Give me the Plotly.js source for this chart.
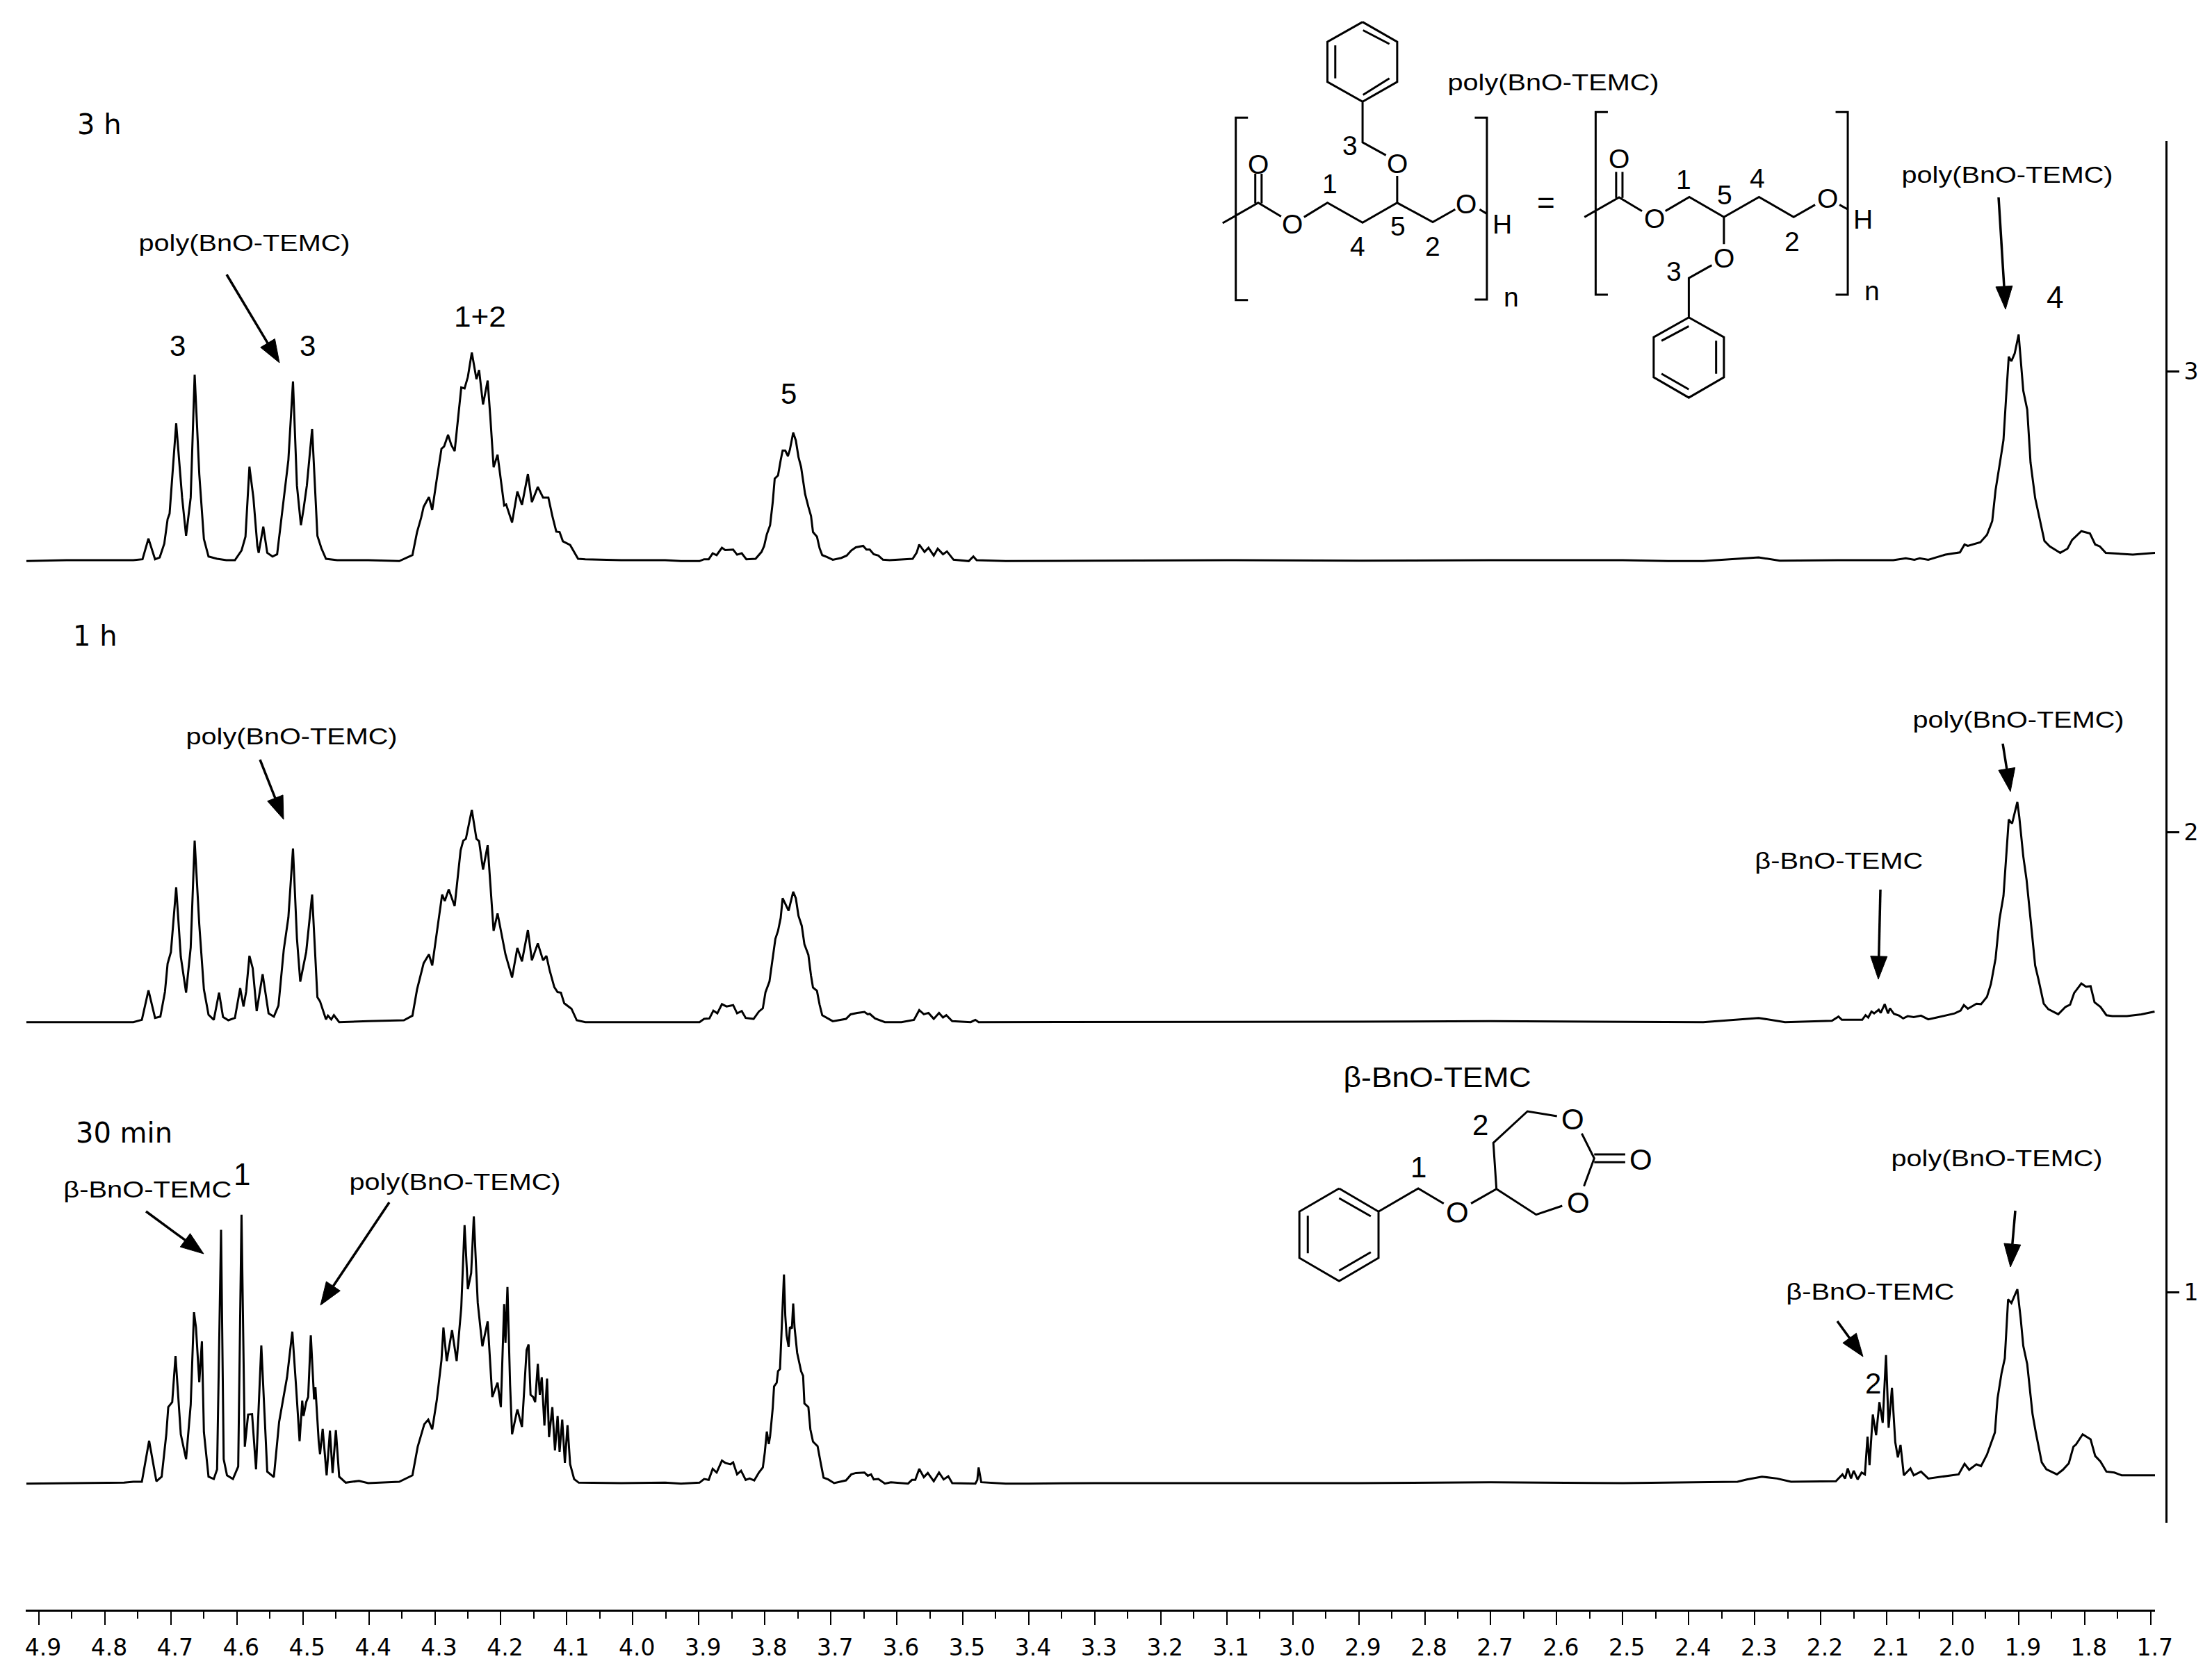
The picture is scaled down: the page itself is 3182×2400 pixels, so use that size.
<!DOCTYPE html>
<html>
<head>
<meta charset="utf-8">
<script src="https://cdn.plot.ly/plotly-3.0.1.min.js"></script>
<style>html,body{margin:0;padding:0;background:#fff}</style>
</head>
<body>
<div id="chart" style="width:3182px;height:2400px"></div>
<script>
// ---------- stacked offsets (right axis units) ----------
const base3h = 2.588, base1h = 1.587, base30 = 0.585;

// ---------- 3 h spectrum ----------
const ppm3h_a = [4.919,4.858,4.757,4.743,4.734,4.724,4.717,4.710,4.705,4.702,4.692,4.683,4.677,4.670,4.664,4.657,4.650,4.643,4.630,4.616,4.603,4.593,4.587,4.581,4.575,4.569,4.567,4.560,4.554,4.546,4.539,4.532,4.522,4.515,4.509,4.503,4.499,4.494,4.486,4.478,4.472,4.465,4.448];
const int3h_a = [0,.002,.002,.004,.049,.004,.008,.038,.091,.103,.299,.138,.055,.138,.405,.189,.048,.010,.005,.002,.002,.023,.053,.205,.138,.033,.018,.075,.018,.010,.015,.098,.219,.390,.164,.078,.113,.164,.287,.055,.028,.005,.002];
const ppm3h_b = [4.401,4.354,4.334,4.327,4.321,4.317,4.309,4.304,4.297,4.290,4.286,4.280,4.275,4.270,4.260,4.255,4.250,4.244,4.237,4.233,4.227,4.220,4.216,4.211,4.205,4.200,4.195,4.192,4.183,4.175,4.168,4.159,4.153,4.144,4.136,4.128,4.122,4.116,4.111,4.106,4.095,4.083,4.072,4.018,3.951];
const int3h_b = [.002,0,.013,.063,.093,.118,.139,.111,.179,.244,.249,.274,.252,.239,.377,.375,.400,.453,.395,.415,.340,.392,.314,.204,.231,.179,.121,.123,.084,.151,.122,.189,.128,.161,.138,.138,.098,.064,.063,.043,.035,.005,.004,.002,.002];
const ppm3h_c = [3.927,3.899,3.892,3.885,3.879,3.873,3.865,3.860,3.848,3.842,3.835,3.828,3.814,3.805,3.801,3.797,3.792,3.788,3.785,3.780,3.776,3.773,3.769,3.765,3.762,3.757,3.753,3.749,3.745,3.739,3.734,3.730,3.727,3.721,3.717,3.713,3.706,3.697,3.684,3.676,3.669,3.662,3.651,3.646,3.641,3.635,3.628,3.621,3.611,3.576,3.570,3.566,3.558,3.552,3.544,3.538,3.530,3.524,3.514,3.491,3.484,3.479,3.435,3.400];
const int3h_c = [0,0,.004,.004,.017,.013,.029,.024,.025,.014,.017,.004,.005,.020,.033,.058,.078,.128,.179,.186,.219,.240,.240,.228,.242,.279,.262,.226,.204,.146,.118,.098,.063,.053,.028,.013,.009,.003,.007,.012,.023,.030,.033,.025,.025,.015,.012,.003,.002,.005,.018,.036,.020,.029,.012,.027,.015,.021,.003,0,.010,.002,0,0];
const ppm3h_d = [3.30,3.10,2.90,2.70,2.50,2.431,2.378,2.294,2.262,2.174,2.090,2.071,2.058,2.050,2.037,2.011,1.989,1.982,1.977,1.958,1.948,1.940,1.935,1.926,1.923,1.919,1.915,1.911,1.906,1.900,1.896,1.893,1.887,1.882,1.875,1.868,1.861,1.853,1.837,1.826,1.819,1.805,1.792,1.784,1.777,1.768,1.727,1.692];
const int3h_d = [.001,.002,.001,.002,.002,0,0,.008,.001,.002,.002,.006,.003,.006,.003,.014,.019,.036,.033,.041,.057,.087,.154,.235,.263,.356,.444,.434,.451,.492,.424,.370,.329,.214,.137,.088,.044,.032,.018,.027,.046,.065,.060,.036,.032,.018,.014,.018];

// ---------- 1 h spectrum ----------
const ppm1h_a = [4.919,4.757,4.744,4.734,4.724,4.716,4.709,4.705,4.700,4.692,4.685,4.677,4.670,4.664,4.657,4.650,4.643,4.635,4.627,4.621,4.613,4.603,4.595,4.590,4.586,4.581,4.576,4.570,4.561,4.552,4.544,4.537,4.529,4.522,4.515,4.509,4.504,4.495,4.486,4.478,4.474,4.465,4.462,4.457,4.453,4.445];
const int1h_a = [0,0,.005,.069,.009,.012,.066,.127,.152,.293,.142,.064,.162,.394,.212,.071,.016,.005,.064,.011,.004,.009,.074,.034,.066,.144,.117,.024,.104,.019,.012,.036,.157,.227,.377,.182,.088,.152,.277,.054,.045,.006,.014,.006,.015,0];
const ppm1h_b = [4.401,4.347,4.334,4.327,4.317,4.309,4.304,4.297,4.289,4.285,4.279,4.270,4.261,4.257,4.253,4.244,4.237,4.233,4.227,4.220,4.215,4.211,4.205,4.198,4.193,4.183,4.175,4.168,4.159,4.153,4.144,4.136,4.131,4.126,4.119,4.114,4.109,4.104,4.093,4.085,4.072,3.951];
const int1h_b = [.002,.004,.014,.071,.128,.147,.123,.197,.277,.263,.288,.252,.373,.394,.398,.461,.398,.393,.331,.384,.283,.198,.236,.182,.147,.097,.161,.132,.200,.134,.171,.134,.144,.112,.076,.065,.064,.041,.029,.004,0,0];
const ppm1h_c = [3.927,3.899,3.892,3.884,3.878,3.872,3.865,3.858,3.848,3.842,3.835,3.829,3.817,3.809,3.803,3.799,3.793,3.789,3.784,3.780,3.776,3.773,3.764,3.757,3.753,3.749,3.744,3.740,3.734,3.730,3.727,3.721,3.717,3.713,3.706,3.697,3.677,3.670,3.660,3.649,3.644,3.641,3.633,3.627,3.618,3.593,3.574,3.566,3.559,3.552,3.544,3.536,3.530,3.525,3.516,3.488,3.481,3.476,3.435,3.400];
const int1h_c = [0,0,.007,.008,.025,.019,.039,.034,.037,.019,.024,.009,.007,.023,.030,.065,.088,.133,.181,.198,.226,.269,.242,.283,.269,.231,.209,.169,.146,.101,.075,.068,.038,.015,.009,.002,.007,.017,.020,.022,.017,.018,.008,.005,0,0,.005,.026,.017,.020,.007,.020,.010,.015,.002,0,.005,0,0,0];
const ppm1h_d = [3.30,3.10,2.90,2.70,2.50,2.378,2.294,2.254,2.183,2.173,2.168,2.137,2.132,2.128,2.123,2.119,2.112,2.109,2.103,2.098,2.095,2.089,2.081,2.075,2.068,2.059,2.048,2.037,2.024,1.997,1.988,1.983,1.977,1.964,1.957,1.948,1.942,1.935,1.929,1.923,1.915,1.910,1.902,1.899,1.893,1.888,1.882,1.875,1.870,1.862,1.855,1.840,1.829,1.822,1.816,1.805,1.798,1.791,1.785,1.776,1.767,1.758,1.736,1.714,1.694];
const int1h_d = [.001,.001,.001,.002,.001,0,.009,0,.003,.012,.005,.005,.015,.010,.023,.019,.027,.020,.039,.019,.030,.018,.014,.008,.013,.011,.014,.006,.010,.019,.025,.037,.029,.040,.039,.055,.083,.138,.224,.274,.440,.431,.478,.445,.360,.309,.224,.123,.093,.040,.028,.017,.033,.038,.063,.084,.077,.078,.043,.033,.015,.013,.013,.017,.023];

// ---------- 30 min spectrum ----------
const ppm30_a = [4.919,4.771,4.757,4.744,4.733,4.722,4.714,4.707,4.704,4.698,4.693,4.685,4.677,4.670,4.665,4.662,4.657,4.653,4.650,4.643,4.635,4.630,4.624,4.620,4.615,4.606,4.598,4.593,4.588,4.583,4.577,4.571,4.563,4.554,4.544,4.536,4.524,4.516,4.510,4.505,4.501,4.499,4.495,4.492,4.488,4.483,4.481,4.476,4.474,4.470,4.464,4.459,4.455,4.450,4.445,4.435];
const int30_a = [0,.002,.004,.004,.093,.005,.015,.107,.166,.177,.277,.107,.053,.171,.372,.339,.220,.309,.112,.015,.010,.031,.551,.053,.018,.010,.037,.584,.080,.150,.151,.031,.300,.026,.014,.134,.231,.330,.204,.092,.180,.147,.177,.188,.322,.183,.209,.091,.064,.119,.018,.115,.023,.116,.015,.002];
const ppm30_b = [4.415,4.401,4.354,4.334,4.326,4.319,4.316,4.310,4.304,4.297,4.290,4.287,4.282,4.274,4.267,4.260,4.255,4.250,4.245,4.241,4.235,4.228,4.220,4.213,4.205,4.200,4.195,4.193,4.190,4.186,4.183,4.175,4.168,4.161,4.158,4.155,4.151,4.148,4.144,4.141,4.138,4.134,4.130,4.127,4.122,4.118,4.114,4.111,4.107,4.103,4.099,4.095,4.089,4.082,4.018,3.951];
const int30_b = [.006,.001,.004,.018,.080,.112,.129,.139,.118,.182,.268,.339,.266,.333,.266,.382,.561,.422,.457,.580,.392,.298,.352,.188,.219,.166,.390,.306,.427,.215,.107,.161,.123,.290,.302,.193,.188,.177,.260,.193,.231,.126,.228,.101,.166,.072,.147,.069,.139,.045,.127,.042,.010,.002,.001,.002];
const ppm30_c = [3.927,3.899,3.892,3.885,3.879,3.873,3.865,3.860,3.852,3.848,3.842,3.836,3.829,3.823,3.816,3.809,3.803,3.800,3.797,3.794,3.792,3.788,3.786,3.782,3.780,3.777,3.775,3.773,3.771,3.769,3.767,3.764,3.762,3.759,3.757,3.755,3.751,3.748,3.745,3.742,3.740,3.734,3.731,3.727,3.720,3.716,3.711,3.704,3.695,3.677,3.669,3.662,3.649,3.644,3.639,3.635,3.628,3.618,3.609,3.583,3.577,3.572,3.566,3.559,3.553,3.544,3.536,3.529,3.522,3.516,3.481,3.478,3.476,3.472,3.435,3.400];
const int30_c = [0,.002,.010,.008,.032,.024,.050,.045,.042,.046,.020,.028,.008,.011,.007,.024,.035,.068,.113,.086,.103,.164,.211,.219,.244,.249,.314,.382,.454,.365,.322,.297,.340,.337,.391,.340,.284,.264,.244,.234,.174,.166,.118,.091,.081,.050,.013,.009,.001,.007,.020,.023,.024,.017,.020,.009,.010,0,.003,0,.008,.008,.032,.014,.023,.005,.024,.009,.016,.001,0,.008,.035,.003,0,0];
const ppm30_d = [3.30,3.10,2.90,2.70,2.50,2.326,2.312,2.289,2.266,2.245,2.177,2.167,2.163,2.159,2.154,2.150,2.144,2.138,2.133,2.129,2.126,2.121,2.116,2.111,2.106,2.101,2.097,2.092,2.087,2.083,2.079,2.074,2.064,2.059,2.048,2.037,2.014,1.991,1.982,1.975,1.964,1.957,1.948,1.936,1.932,1.926,1.921,1.916,1.911,1.902,1.897,1.893,1.887,1.879,1.874,1.865,1.858,1.842,1.833,1.824,1.817,1.813,1.803,1.791,1.784,1.776,1.767,1.755,1.744,1.693];
const int30_d = [.001,.001,.001,.003,.001,.004,.009,.015,.011,.004,.005,.020,.011,.033,.011,.028,.009,.024,.020,.102,.040,.150,.105,.177,.132,.279,.121,.208,.090,.057,.084,.018,.033,.018,.026,.011,.016,.020,.043,.030,.042,.038,.063,.111,.185,.239,.272,.400,.392,.422,.360,.299,.259,.151,.111,.046,.031,.020,.030,.044,.080,.085,.107,.096,.060,.048,.026,.024,.018,.018];

// ---------- axis ticks ----------
const rightTicks = [1, 2, 3];

// ---------- text ----------
const POLY = 'poly(BnO-TEMC)', BETA = '\u03b2-BnO-TEMC';

function join(...parts) { return [].concat(...parts); }
const pairs = [[ppm3h_a,int3h_a],[ppm3h_b,int3h_b],[ppm3h_c,int3h_c],[ppm3h_d,int3h_d],
  [ppm1h_a,int1h_a],[ppm1h_b,int1h_b],[ppm1h_c,int1h_c],[ppm1h_d,int1h_d],
  [ppm30_a,int30_a],[ppm30_b,int30_b],[ppm30_c,int30_c],[ppm30_d,int30_d]];
pairs.forEach((p,i)=>{ if(p[0].length!==p[1].length) throw new Error('length mismatch '+i+': '+p[0].length+' vs '+p[1].length); });

function spectrum(xs, ys, base, name) {
  return {type:'scatter', mode:'lines', name:name, x:join(...xs), y:join(...ys).map(v=>v+base),
          line:{color:'#000', width:3, shape:'linear'}, hoverinfo:'skip', showlegend:false};
}
const traces = [
  spectrum([ppm3h_a,ppm3h_b,ppm3h_c,ppm3h_d],[int3h_a,int3h_b,int3h_c,int3h_d],base3h,'3 h'),
  spectrum([ppm1h_a,ppm1h_b,ppm1h_c,ppm1h_d],[int1h_a,int1h_b,int1h_c,int1h_d],base1h,'1 h'),
  spectrum([ppm30_a,ppm30_b,ppm30_c,ppm30_d],[int30_a,int30_b,int30_c,int30_d],base30,'30 min')
];

// ---------- page geometry ----------
const L=37, R=3116, T=203, B=2317, W=R-L, H=B-T;
const px=X=>(X-L)/W, py=Y=>(B-Y)/H;

const annotations=[], widths=[];
function label(text,X,Y,size,width,family){
  annotations.push({xref:'paper',yref:'paper',x:px(X),y:py(Y),xanchor:'center',yanchor:'middle',
    text:text,showarrow:false,font:{family:family||'Liberation Sans',size:size,color:'#000'}});
  widths.push(width||0);
}
// time labels
label('3 h',143,179,40,0,'DejaVu Sans');
label('1 h',137,915,40,0,'DejaVu Sans');
label('30 min',178,1630,40,0,'DejaVu Sans');
// species labels
[[2234,118],[351,349],[2887,251],[419,1059],[2903,1035],[654,1700],[2872,1666]].forEach(p=>label(POLY,p[0],p[1],33,304));
[[2645,1238],[212,1712],[2690,1858]].forEach(p=>label(BETA,p[0],p[1],33,242));
label(BETA,2067,1550,41,270);
// peak numbers
label('3',255,497,42); label('3',443,497,42); label('1+2',690,455,43,75); label('5',1134,566,42);
label('4',2956,428,44); label('1',348,1689,44); label('2',2694,1990,42);

// ---------- arrows ----------
const shapes=[];
function arrow(x0,y0,x1,y1){
  const d=Math.hypot(x1-x0,y1-y0),ux=(x1-x0)/d,uy=(y1-y0)/d,len=33,w=12;
  const bx=x1-ux*len,by=y1-uy*len;
  const f=(x,y)=>px(x).toFixed(5)+','+py(y).toFixed(5);
  shapes.push({type:'line',xref:'paper',yref:'paper',x0:px(x0),y0:py(y0),x1:px(bx),y1:py(by),line:{color:'#000',width:3.5}});
  shapes.push({type:'path',xref:'paper',yref:'paper',path:'M'+f(bx-uy*w,by+ux*w)+'L'+f(bx+uy*w,by-ux*w)+'L'+f(x1,y1)+'Z',
    fillcolor:'#000',line:{color:'#000',width:1}});
}
[[326,395,402,522],[2875,284,2885,445],[374,1093,408,1179],[2881,1070,2892,1139],[2705,1280,2702,1409],
 [210,1743,293,1804],[560,1730,461,1878],[2899,1742,2892,1823],[2643,1901,2680,1952]].forEach(a=>arrow(...a));

// ---------- chemical structures ----------
function structure(mapX,mapY,lines,atoms,size){
  let d='';
  lines.forEach(poly=>{
    poly.forEach((p,i)=>{ d+=(i?'L':'M')+px(mapX(p[0])).toFixed(5)+','+py(mapY(p[1])).toFixed(5); });
  });
  shapes.push({type:'path',xref:'paper',yref:'paper',path:d,line:{color:'#000',width:3}});
  atoms.forEach(a=>label(a[0],mapX(a[1]),mapY(a[2]),a[3]||size));
}
const polyLines=[
  [[442,80],[513,152],[513,298],[442,370],[370,298],[370,152],[442,80]],
  [[443,110],[497,160]],[[386,165],[386,285]],[[443,345],[497,285]],
  [[442,370],[442,518],[490,565]],[[513,640],[513,738]],
  [[155,812],[228,738],[275,788]],[[322,790],[370,738],[442,810],[513,738],[586,808],[632,762]],[[682,762],[697,778]],
  [[222,740],[222,632]],[[235,740],[235,632]],
  [[207,428],[182,428],[182,1092],[207,1092]],[[672,428],[697,428],[697,1090],[672,1090]],
  [[945,408],[920,408],[920,1072],[945,1072]],[[1412,408],[1437,408],[1437,1072],[1412,1072]],
  [[897,790],[968,718],[1015,768]],[[962,720],[962,625]],[[975,720],[975,625]],
  [[1063,768],[1112,717],[1183,790],[1255,717],[1326,790],[1370,745]],[[1420,745],[1437,762]],
  [[1183,790],[1183,888]],[[1158,965],[1111,1012],[1111,1155]],
  [[1111,1155],[1183,1227],[1183,1373],[1111,1447],[1039,1373],[1039,1227],[1111,1155]],
  [[1055,1240],[1111,1187]],[[1167,1240],[1167,1360]],[[1055,1360],[1111,1417]]
];
const polyAtoms=[['O',513,595],['O',298,815],['O',655,742],['H',728,815],['O',228,597],['n',747,1080],
  ['3',416,530],['1',375,668],['5',515,822],['4',432,897],['2',586,897],['=',818,738,44],
  ['O',968,578],['O',1040,795],['O',1395,722],['H',1468,797],['O',1183,940],['n',1487,1058],
  ['1',1100,655],['4',1252,648],['5',1185,710],['2',1323,880],['3',1080,987]];
structure(z=>1650+z/1.4255,z=>z/2.529,polyLines,polyAtoms,39);

const betaLines=[
  [[283,630],[410,730],[410,930],[283,1030],[155,930],[155,730],[283,630]],
  [[283,672],[385,750]],[[182,748],[182,910]],[[283,985],[385,905]],
  [[410,730],[538,630],[620,695]],[[708,695],[790,632],[918,743],[1002,705]],
  [[1072,620],[1105,500],[1065,393]],[[1105,483],[1205,483]],[[1105,517],[1205,517]],
  [[985,318],[890,297],[780,433],[790,632]]
];
const betaAtoms=[['O',665,735],['O',1053,690],['O',1255,505],['O',1035,333],['2',738,355],['1',538,538]];
structure(z=>1800+z/2.24,z=>1500+z/3,betaLines,betaAtoms,42);

// ---------- layout ----------
const layout={
  width:3182,height:2400,autosize:false,paper_bgcolor:'#fff',plot_bgcolor:'#fff',showlegend:false,
  margin:{l:L,r:3182-R,t:T,b:2400-B,pad:0},
  xaxis:{domain:[0,(3100-L)/W],range:[4.920,1.6934],anchor:'free',position:0,showgrid:false,zeroline:false,
    showline:true,linecolor:'#000',linewidth:3,ticks:'outside',ticklen:19,tickwidth:2,tickcolor:'#000',
    tick0:1.7,dtick:0.1,tickformat:'.1f',ticklabelshift:-6,ticklabelstandoff:4,
    tickfont:{family:'DejaVu Sans',size:33,color:'#000'},
    minor:{ticks:'outside',ticklen:10,tickwidth:2,tickcolor:'#000',dtick:0.05,tick0:1.7,showgrid:false}},
  yaxis:{domain:[(B-2191)/H,1],range:[0.5,3.5],side:'right',anchor:'free',position:1,showgrid:false,zeroline:false,
    showline:true,linecolor:'#000',linewidth:3,ticks:'outside',ticklen:17,tickwidth:3,tickcolor:'#000',
    tickvals:rightTicks,ticktext:rightTicks.map(String),
    tickfont:{family:'DejaVu Sans',size:33,color:'#000'}},
  annotations:annotations,shapes:shapes
};

Plotly.newPlot('chart',traces,layout,{staticPlot:true,displayModeBar:false}).then(()=>{
  document.querySelectorAll('g.annotation').forEach(g=>{
    const i=+g.getAttribute('data-index'); const t=g.querySelector('text.annotation-text');
    if(t&&widths[i]){ t.setAttribute('lengthAdjust','spacingAndGlyphs'); t.setAttribute('textLength',widths[i]); }
  });
});
</script>
</body>
</html>
